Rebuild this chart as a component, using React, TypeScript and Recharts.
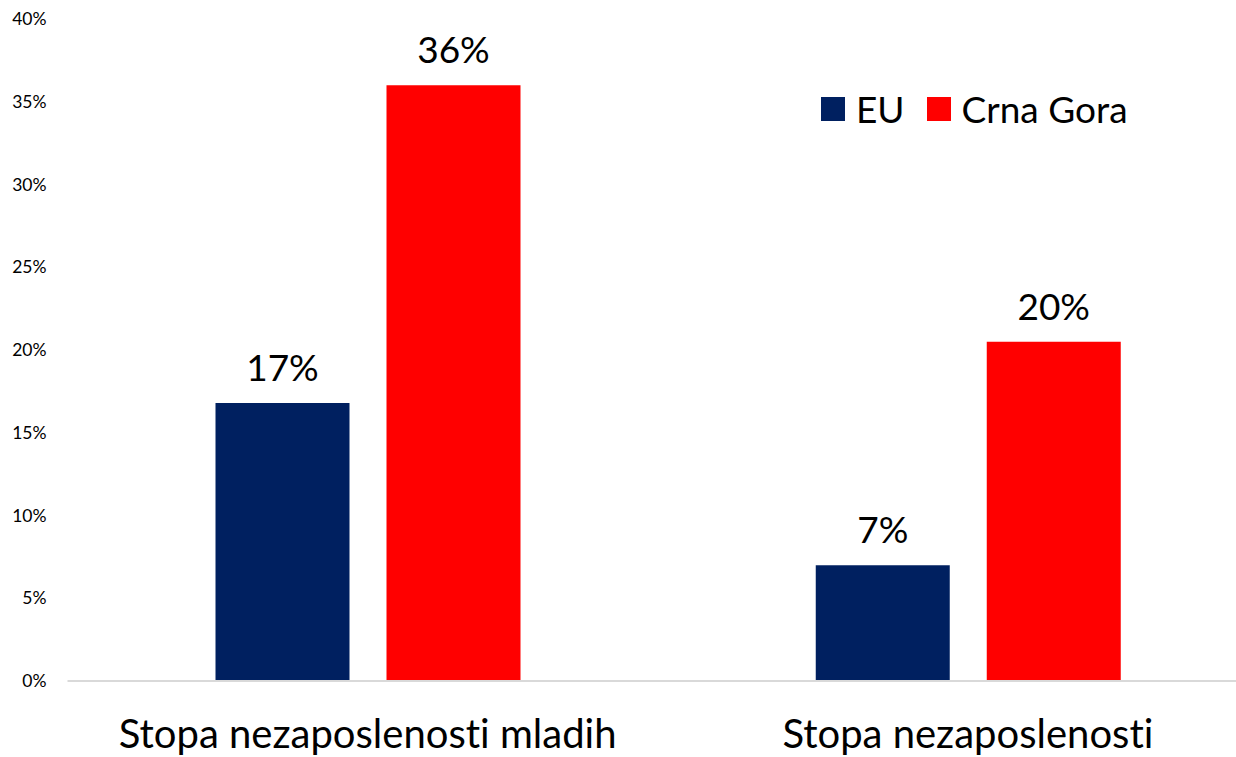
import React from 'react';
import { BarChart, Bar, XAxis, YAxis, LabelList } from 'recharts';

const categories = ['Stopa nezaposlenosti mladih', 'Stopa nezaposlenosti'];
const euValues = [16.8, 7.0];
const cgValues = [36.0, 20.5];
const labelTexts = { eu: ['17%', '7%'], cg: ['36%', '20%'] };
const yTicks = [0, 5, 10, 15, 20, 25, 30, 35, 40];
const seriesNames = ['EU', 'Crna Gora'];
const seriesColors = ['#002060', '#FF0000'];

const data = categories.map((c, i) => ({
  name: c,
  eu: euValues[i],
  cg: cgValues[i],
  euLabel: labelTexts.eu[i],
  cgLabel: labelTexts.cg[i],
}));

const FONT = 'Lato, "Open Sans", sans-serif';
const noLig: React.CSSProperties = { fontVariantLigatures: 'none', fontFeatureSettings: '"liga" 0, "clig" 0' };

const YTick = (props: any) => {
  const { x, y, payload } = props;
  return (
    <text x={x} y={y} dy={6} textAnchor="end" fontSize={17.5} fontFamily={FONT} fill="#000">
      {payload.value}%
    </text>
  );
};

const XTick = (props: any) => {
  const { x, y, payload } = props;
  return (
    <text x={x} y={y + 59} textAnchor="middle" fontSize={40} fontFamily={FONT} fill="#000" style={noLig}>
      {payload.value}
    </text>
  );
};

const renderLabel = (props: any) => {
  const { x, y, width, value } = props;
  return (
    <text x={x + width / 2} y={y - 22} textAnchor="middle" fontSize={37} fontFamily={FONT} fill="#000">
      {value}
    </text>
  );
};

const LegendBox = () => (
  <div
    style={{
      position: 'absolute',
      top: 86,
      left: 821,
      display: 'flex',
      alignItems: 'center',
      fontFamily: FONT,
      fontSize: 37,
      color: '#000',
      whiteSpace: 'nowrap',
    }}
  >
    {seriesNames.map((n, i) => (
      <div key={n} style={{ display: 'flex', alignItems: 'center', marginRight: i === 0 ? 22 : 0 }}>
        <div style={{ width: 24, height: 24, background: seriesColors[i], marginRight: 11 }} />
        <span>{n}</span>
      </div>
    ))}
  </div>
);

export default function App() {
  return (
    <div style={{ position: 'absolute', left: 0, top: 0, width: 1236, height: 757, overflow: 'hidden', background: '#fff' }}>
      <BarChart
        width={1268}
        height={757}
        data={data}
        margin={{ top: 19, right: 0, bottom: 0, left: 0 }}
        barCategoryGap={147.5}
        barGap={37}
      >
        <YAxis
          width={67.5}
          domain={[0, 40]}
          ticks={yTicks}
          axisLine={false}
          tickLine={false}
          tick={<YTick />}
          tickMargin={0}
          tickSize={21}
          interval={0}
        />
        <XAxis
          dataKey="name"
          height={76}
          axisLine={{ stroke: '#d9d9d9', strokeWidth: 2 }}
          tickLine={false}
          tick={<XTick />}
          interval={0}
        />
        <Bar dataKey="eu" name={seriesNames[0]} fill={seriesColors[0]} barSize={134} isAnimationActive={false}>
          <LabelList dataKey="euLabel" content={renderLabel} />
        </Bar>
        <Bar dataKey="cg" name={seriesNames[1]} fill={seriesColors[1]} barSize={134} isAnimationActive={false}>
          <LabelList dataKey="cgLabel" content={renderLabel} />
        </Bar>
      </BarChart>
      <LegendBox />
    </div>
  );
}
